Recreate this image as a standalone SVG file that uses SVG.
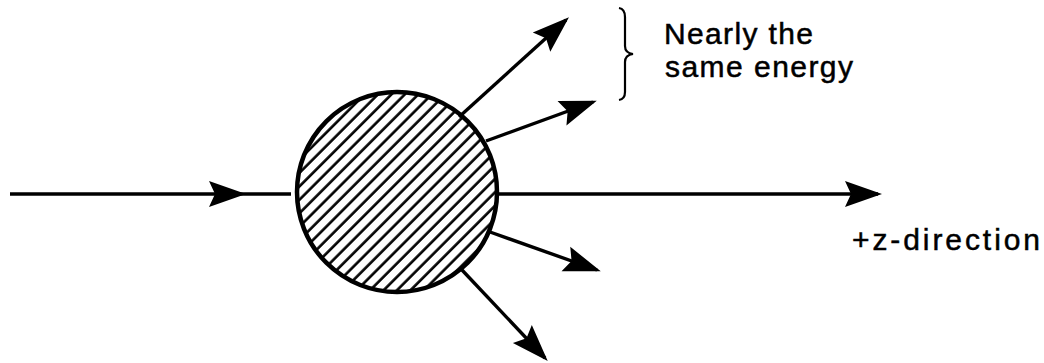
<svg xmlns="http://www.w3.org/2000/svg" width="1044" height="363" viewBox="0 0 1044 363">
<style>
.ln{stroke:#000;stroke-width:3.4;fill:none}
.txt{font-family:"Liberation Sans",Arial,sans-serif;font-size:30px;fill:#000;stroke:#000;stroke-width:0.5}
</style>
<defs>
<marker id="ah" markerUnits="userSpaceOnUse" markerWidth="46" markerHeight="32" viewBox="-40 -16 46 32" refX="0" refY="0" orient="auto" overflow="visible">
<path d="M4,0 L-33,-13 L-27,0 L-33,13 Z" fill="#000"/>
</marker>
<pattern id="hatch" patternUnits="userSpaceOnUse" width="9.5" height="10" patternTransform="rotate(45)">
<line x1="1.5" y1="0" x2="1.5" y2="10" stroke="#000" stroke-width="2.6"/>
</pattern>
</defs>
<rect width="1044" height="363" fill="#fff"/>
<g id="connectors">
<path class="ln" d="M10,194 L242,194" marker-end="url(#ah)"/>
<path class="ln" d="M242,194 L291,194"/>
<path class="ln" d="M498,194 L878,194" marker-end="url(#ah)"/>
<path class="ln" d="M459,117 L566,20" marker-end="url(#ah)"/>
<path class="ln" d="M486,141 L593,102" marker-end="url(#ah)"/>
<path class="ln" d="M490,232 L597,270" marker-end="url(#ah)"/>
<path class="ln" d="M462,270 L545,358" marker-end="url(#ah)"/>
</g>
<g id="target">
<circle cx="397" cy="192" r="100" fill="url(#hatch)" stroke="#000" stroke-width="4.5"/>
</g>
<g id="brace">
<path d="M619,8 Q625,9 625,17 L625,46 Q625,53 633,54 Q625,55 625,62 L625,92 Q625,99 619,100" stroke="#000" stroke-width="2.2" fill="none"/>
</g>
<g id="labels">
<text class="txt" x="664" y="44" textLength="149" lengthAdjust="spacing">Nearly the</text>
<text class="txt" x="665" y="77" textLength="188" lengthAdjust="spacing">same energy</text>
<text class="txt" x="852" y="250" textLength="188" lengthAdjust="spacing">+z-direction</text>
</g>
</svg>
